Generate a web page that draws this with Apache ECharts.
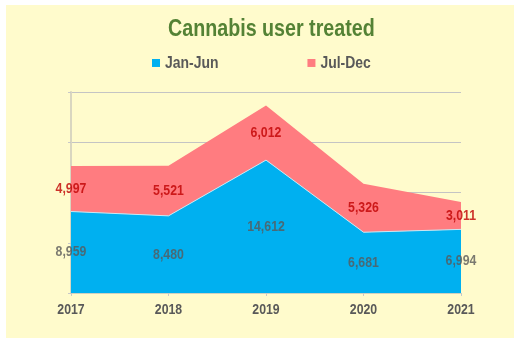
<!DOCTYPE html>
<html>
<head>
<meta charset="utf-8">
<script src="https://cdn.jsdelivr.net/npm/echarts@6/dist/echarts.min.js"></script>
<style>
html,body{margin:0;padding:0;background:#ffffff;}
#chart{position:absolute;left:6px;top:5px;width:508px;height:333px;}
</style>
</head>
<body>
<div id="chart"></div>
<script>
const categories = ['2017', '2018', '2019', '2020', '2021'];
const janJun = [8959, 8480, 14612, 6681, 6994];
const julDec = [4997, 5521, 6012, 5326, 3011];
const seriesNames = ['Jan-Jun', 'Jul-Dec'];

// Emulate a narrow (condensed) face: Liberation Sans drawn at 82% width.
(function () {
  const S = 0.82;
  const P = CanvasRenderingContext2D.prototype;
  const fill = P.fillText, stroke = P.strokeText, measure = P.measureText;
  P.fillText = function (t, x, y, mw) {
    this.save(); this.translate(x, y); this.scale(S, 1);
    if (mw !== undefined) fill.call(this, t, 0, 0, mw / S); else fill.call(this, t, 0, 0);
    this.restore();
  };
  P.strokeText = function (t, x, y, mw) {
    this.save(); this.translate(x, y); this.scale(S, 1);
    if (mw !== undefined) stroke.call(this, t, 0, 0, mw / S); else stroke.call(this, t, 0, 0);
    this.restore();
  };
  P.measureText = function (t) {
    const m = measure.call(this, t);
    return {
      width: m.width * S,
      actualBoundingBoxLeft: m.actualBoundingBoxLeft * S,
      actualBoundingBoxRight: m.actualBoundingBoxRight * S,
      actualBoundingBoxAscent: m.actualBoundingBoxAscent,
      actualBoundingBoxDescent: m.actualBoundingBoxDescent,
      fontBoundingBoxAscent: m.fontBoundingBoxAscent,
      fontBoundingBoxDescent: m.fontBoundingBoxDescent
    };
  };
})();

const FONT = '"Liberation Sans", Arial, sans-serif';

const janMid = janJun.map(v => v / 2);
const julMid = janJun.map((v, i) => v + julDec[i] / 2);

const chart = echarts.init(document.getElementById('chart'));
chart.setOption({
  backgroundColor: '#FFFBCC',
  animation: false,
  title: {
    text: 'Cannabis user treated',
    left: 162,
    top: 15,
    padding: 0,
    textStyle: { color: '#548235', fontSize: 24, fontWeight: 'bold', fontFamily: FONT }
  },
  legend: {
    data: seriesNames,
    left: 146,
    top: 51,
    padding: 0,
    itemWidth: 8,
    itemHeight: 8,
    itemGap: 89,
    icon: 'rect',
    textStyle: { color: '#595959', fontSize: 17, fontWeight: 'bold', fontFamily: FONT }
  },
  grid: { left: 65, right: 53, top: 87, bottom: 45, containLabel: false },
  xAxis: {
    type: 'category',
    data: categories,
    boundaryGap: false,
    axisLine: { lineStyle: { color: '#D0D0C0', width: 1 } },
    axisTick: { show: true, length: 3, lineStyle: { color: '#C8C8C8' } },
    axisLabel: { color: '#595959', fontSize: 15, fontWeight: 'bold', fontFamily: FONT, margin: 11 },
    splitLine: { show: false }
  },
  yAxis: {
    type: 'value',
    min: 0,
    max: 22100,
    interval: 5525,
    axisLine: { show: true, lineStyle: { color: '#D9D6C0', width: 2 } },
    axisTick: { show: true, length: 3, lineStyle: { color: '#C8C8C8' } },
    axisLabel: { show: false },
    splitLine: { lineStyle: { color: '#C4C4C4', width: 1 } }
  },
  series: [
    {
      name: seriesNames[0],
      type: 'line',
      stack: 'total',
      data: janJun,
      symbol: 'none',
      lineStyle: { color: '#CDE6F2', width: 1 },
      itemStyle: { color: '#00B0F0' },
      areaStyle: { color: '#00B0F0', opacity: 1 },
      z: 3
    },
    {
      name: seriesNames[1],
      type: 'line',
      stack: 'total',
      data: julDec,
      symbol: 'none',
      lineStyle: { width: 0, color: '#FF7C80' },
      itemStyle: { color: '#FF7C80' },
      areaStyle: { color: '#FF7C80', opacity: 1 },
      z: 2
    },
    {
      type: 'scatter',
      data: janMid,
      symbolSize: 1,
      silent: true,
      itemStyle: { color: 'rgba(0,0,0,0)' },
      label: {
        show: true, position: 'inside',
        formatter: p => janJun[p.dataIndex].toLocaleString('en-US'),
        color: '#595959', fontSize: 15, fontWeight: 'bold', fontFamily: FONT
      },
      z: 5
    },
    {
      type: 'scatter',
      data: julMid,
      symbolSize: 1,
      silent: true,
      itemStyle: { color: 'rgba(0,0,0,0)' },
      label: {
        show: true, position: 'inside',
        formatter: p => julDec[p.dataIndex].toLocaleString('en-US'),
        color: '#C00000', fontSize: 15, fontWeight: 'bold', fontFamily: FONT
      },
      z: 5
    }
  ]
});
</script>
</body>
</html>
